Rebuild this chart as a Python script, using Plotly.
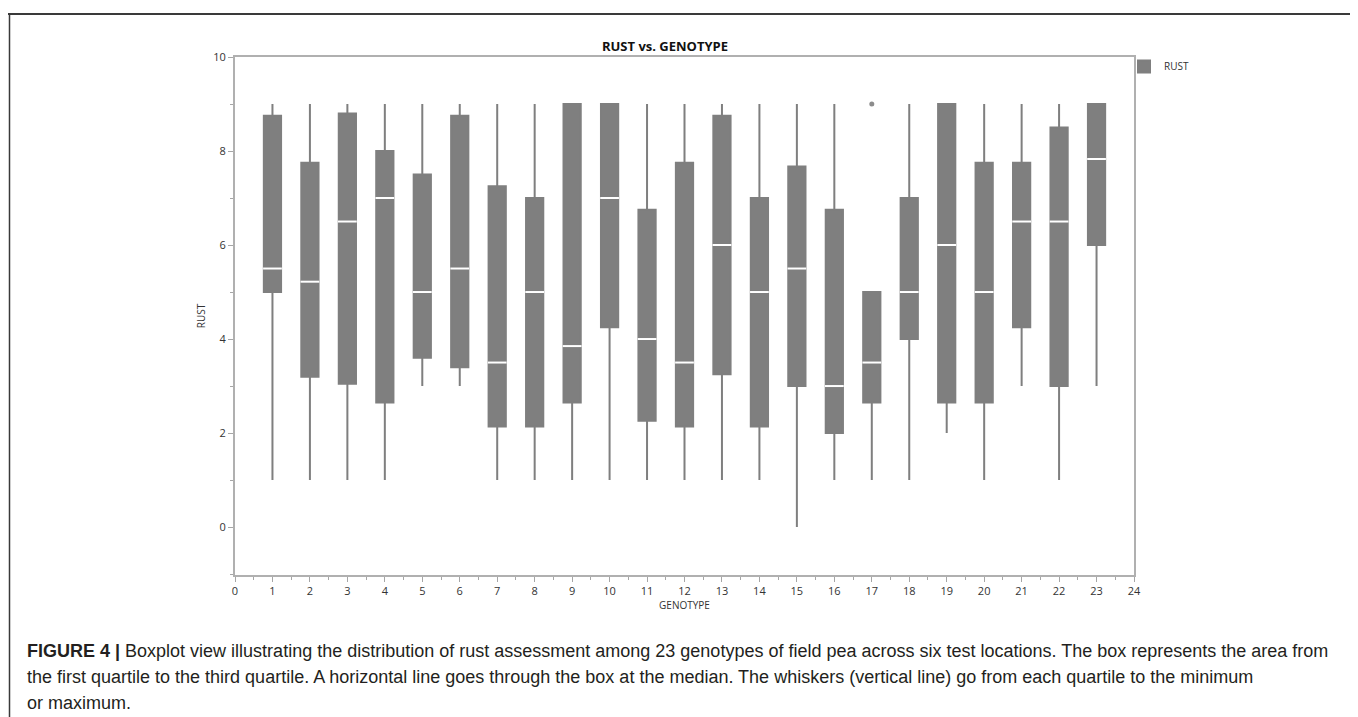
import plotly.graph_objects as go

# ---- data ----
genotype = list(range(1, 24))
rust_min = [1, 1, 1, 1, 3, 3, 1, 1, 1, 1, 1, 1, 1, 1, 0, 1, 1, 1, 2, 1, 3, 1, 3]
rust_q1 = [5.0, 3.2, 3.05, 2.65, 3.6, 3.4, 2.14, 2.14, 2.65, 4.25, 2.26, 2.14, 3.25, 2.14, 3.0, 2.0, 2.65, 4.0, 2.65, 2.65, 4.25, 3.0, 6.0]
rust_median = [5.5, 5.22, 6.5, 7.0, 5.0, 5.5, 3.5, 5.0, 3.85, 7.0, 4.0, 3.5, 6.0, 5.0, 5.5, 3.0, 3.5, 5.0, 6.0, 5.0, 6.5, 6.5, 7.83]
rust_q3 = [8.75, 7.75, 8.8, 8.0, 7.5, 8.75, 7.25, 7.0, 9.0, 9.0, 6.75, 7.75, 8.75, 7.0, 7.67, 6.75, 5.0, 7.0, 9.0, 7.75, 7.75, 8.5, 9.0]
rust_max = [9, 9, 9, 9, 9, 9, 9, 9, 9, 9, 9, 9, 9, 9, 9, 9, 5, 9, 9, 9, 9, 9, 9]
outlier_genotype = [17]
outlier_rust = [9]

x_ticks = list(range(0, 25))
y_ticks = [0, 2, 4, 6, 8, 10]

caption_lines = [
    "<b>FIGURE 4 |</b> Boxplot view illustrating the distribution of rust assessment among 23 genotypes of field pea across six test locations. The box represents the area from",
    "the first quartile to the third quartile. A horizontal line goes through the box at the median. The whiskers (vertical line) go from each quartile to the minimum",
    "or maximum.",
]

BOX_W = 0.46
GRAY = "#7f7f7f"

fig = go.Figure()
fig.add_trace(go.Box(
    x=genotype, q1=rust_q1, median=rust_median, q3=rust_q3,
    lowerfence=rust_min, upperfence=rust_max,
    name="RUST", width=BOX_W, whiskerwidth=0, boxpoints=False,
    fillcolor=GRAY, line=dict(color=GRAY, width=2),
    showlegend=True, hoverinfo="skip",
))

# white median lines
mx, my = [], []
for g, m in zip(genotype, rust_median):
    mx += [g - BOX_W / 2 - 0.02, g + BOX_W / 2 + 0.02, None]
    my += [m, m, None]
fig.add_trace(go.Scatter(x=mx, y=my, mode="lines", line=dict(color="white", width=2),
                         showlegend=False, hoverinfo="skip"))

fig.add_trace(go.Scatter(x=outlier_genotype, y=outlier_rust, mode="markers",
                         marker=dict(color="#8c8c8c", size=5), showlegend=False, hoverinfo="skip"))

axis_font = dict(family="Open Sans, Segoe UI, sans-serif", size=11, color="#333333")

fig.update_xaxes(
    range=[0, 24], tickvals=x_ticks, ticks="outside", ticklen=5, tickcolor="#a6a6a6",
    minor=dict(dtick=0.5, tick0=0, ticks="outside", ticklen=3, tickcolor="#a6a6a6"),
    showline=True, linecolor="#b0b0b0", linewidth=2, mirror=True, showgrid=False, zeroline=False,
    tickfont=axis_font, title=dict(text="GENOTYPE", font=dict(family="Open Sans, sans-serif", size=10, color="#333333"), standoff=2),
)
fig.update_yaxes(
    range=[-1.02, 10], tickvals=y_ticks, ticks="outside", ticklen=5, tickcolor="#a6a6a6",
    minor=dict(dtick=1, tick0=0, ticks="outside", ticklen=3, tickcolor="#a6a6a6"),
    showline=True, linecolor="#b0b0b0", linewidth=2, mirror=True, showgrid=False, zeroline=False,
    tickfont=axis_font, title=dict(text="RUST", font=dict(family="Open Sans, sans-serif", size=10, color="#333333"), standoff=6),
)


def px_x(p):
    return (p - 227) / 899


def px_y(p):
    return (567 - p) / 518


annotations = []
for i, line in enumerate(caption_lines):
    annotations.append(dict(
        text=line, xref="paper", yref="paper", x=px_x(17), y=px_y(643 + 26 * i),
        xanchor="left", yanchor="middle", showarrow=False, align="left",
        font=dict(family="Liberation Sans, Arial, sans-serif", size=18, color="#231f20"),
    ))

shapes = [
    dict(type="line", xref="paper", yref="paper", x0=px_x(0), x1=px_x(1358), y0=px_y(6), y1=px_y(6),
         line=dict(color="#3a3a3a", width=2)),
    dict(type="line", xref="paper", yref="paper", x0=px_x(1.5), x1=px_x(1.5), y0=px_y(6), y1=px_y(720),
         line=dict(color="#3a3a3a", width=1.5)),
    dict(type="line", xref="paper", yref="paper", x0=px_x(1356), x1=px_x(1356), y0=px_y(6), y1=px_y(720),
         line=dict(color="#3a3a3a", width=1.5)),
]

fig.update_layout(
    width=1358, height=717,
    margin=dict(l=227, r=232, t=49, b=150),
    paper_bgcolor="white", plot_bgcolor="white",
    title=dict(text="<b>RUST vs. GENOTYPE</b>", x=px_x(657), xref="paper", xanchor="center",
               y=1 - 38 / 717, yanchor="middle",
               font=dict(family="Open Sans, sans-serif", size=13, color="#111111")),
    legend=dict(x=px_x(1116), y=px_y(44), xanchor="left", yanchor="top",
                font=dict(family="Open Sans, sans-serif", size=10, color="#333333"),
                bgcolor="rgba(0,0,0,0)"),
    annotations=annotations, shapes=shapes,
)

fig.write_html("out.html")
